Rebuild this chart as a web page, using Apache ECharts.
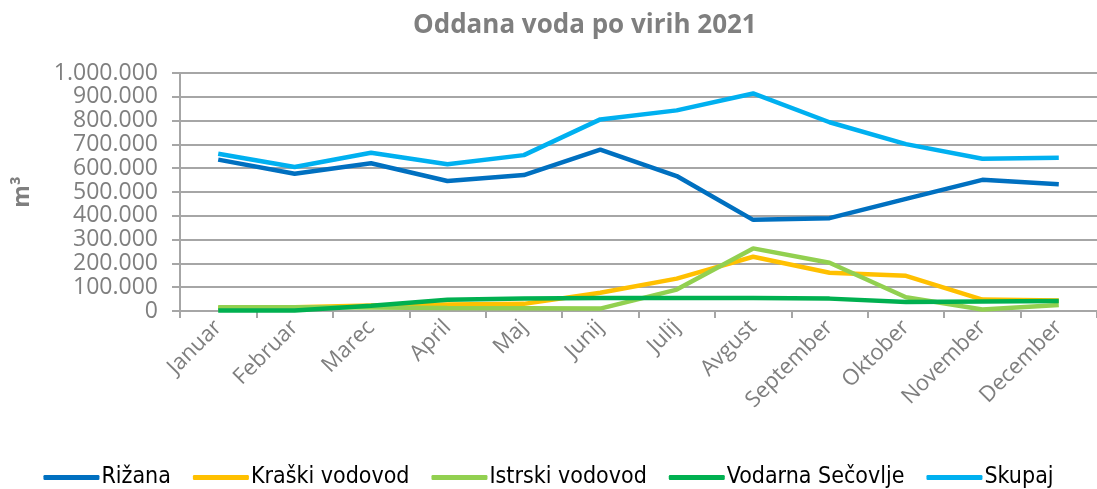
<!DOCTYPE html>
<html>
<head>
<meta charset="utf-8">
<script src="https://cdn.jsdelivr.net/npm/echarts@6/dist/echarts.min.js"></script>
<style>
  html, body { margin: 0; padding: 0; background: #fff; }
  #chart { width: 1097px; height: 489px; }
</style>
</head>
<body>
<div id="chart"></div>
<script>
// meseci
const months = ['Januar', 'Februar', 'Marec', 'April', 'Maj', 'Junij', 'Julij', 'Avgust', 'September', 'Oktober', 'November', 'December']
// oddana voda po virih (m3)
const rizana = [636000, 577000, 621000, 546000, 571000, 678000, 567000, 383000, 390000, 471000, 551000, 533000]
const kraski = [12000, 16000, 23000, 27000, 30000, 77000, 136000, 228000, 161000, 148000, 48000, 44000]
const istrski = [16000, 16000, 15000, 13000, 12000, 10000, 90000, 263000, 203000, 58000, 6000, 25000]
const secovlje = [2000, 2000, 22000, 47000, 52000, 55000, 55000, 55000, 52000, 38000, 40000, 42000]
const skupaj = [661000, 605000, 665000, 617000, 655000, 805000, 843000, 914000, 793000, 701000, 640000, 644000]

const seriesInfo = [
    { name: 'Rižana', data: rizana, color: '#0070C0' },
    { name: 'Kraški vodovod', data: kraski, color: '#FFC000' },
    { name: 'Istrski vodovod', data: istrski, color: '#92D050' },
    { name: 'Vodarna Sečovlje', data: secovlje, color: '#00B050' },
    { name: 'Skupaj', data: skupaj, color: '#00B0F0' },
]

const fmt = v => String(v).replace(/\B(?=(\d{3})+(?!\d))/g, '.')
const grey = '#7F7F7F'

const chart = echarts.init(document.getElementById('chart'))
const option = {
    animation: false,
    title: {
        text: 'Oddana voda po virih 2021',
        left: 408,
        top: 8,
        textStyle: { color: grey, fontSize: 26, fontWeight: 'bold', fontFamily: 'Open Sans' }
    },
    legend: {
        top: 461,
        left: 'center',
        itemWidth: 56,
        itemHeight: 5,
        itemGap: 22,
        icon: 'roundRect',
        textStyle: { color: '#000', fontSize: 23, fontFamily: "'DejaVu Sans Condensed', Roboto", padding: [0, 0, 0, -3] },
        data: seriesInfo.map(s => s.name)
    },
    grid: { left: 180, top: 73, width: 928, height: 238 },
    xAxis: {
        type: 'category',
        data: months,
        boundaryGap: true,
        axisLine: { lineStyle: { color: '#A6A6A6', width: 2 } },
        axisTick: { show: true, length: 7, lineStyle: { color: '#A6A6A6', width: 2 } },
        axisLabel: { rotate: 45, color: grey, fontSize: 22, fontStyle: 'normal', fontFamily: 'Open Sans', margin: 13 }
    },
    yAxis: {
        type: 'value',
        min: 0,
        max: 1000000,
        interval: 100000,
        name: 'm³',
        nameLocation: 'middle',
        nameGap: 146,
        nameRotate: 90,
        nameTextStyle: { color: grey, fontSize: 23, fontWeight: 'bold', fontFamily: 'Open Sans' },
        axisLine: { show: true, lineStyle: { color: '#A6A6A6', width: 2 } },
        axisTick: { show: true, length: 8, lineStyle: { color: '#A6A6A6', width: 2 } },
        splitLine: { lineStyle: { color: '#A6A6A6', width: 2 } },
        axisLabel: { color: grey, fontSize: 23, fontFamily: 'Open Sans', margin: 22, formatter: fmt }
    },
    series: seriesInfo.map(s => ({
        name: s.name,
        type: 'line',
        data: s.data,
        symbol: 'none',
        itemStyle: { color: s.color },
        lineStyle: { color: s.color, width: 4.5 }
    }))
}
chart.setOption(option)
</script>
</body>
</html>
